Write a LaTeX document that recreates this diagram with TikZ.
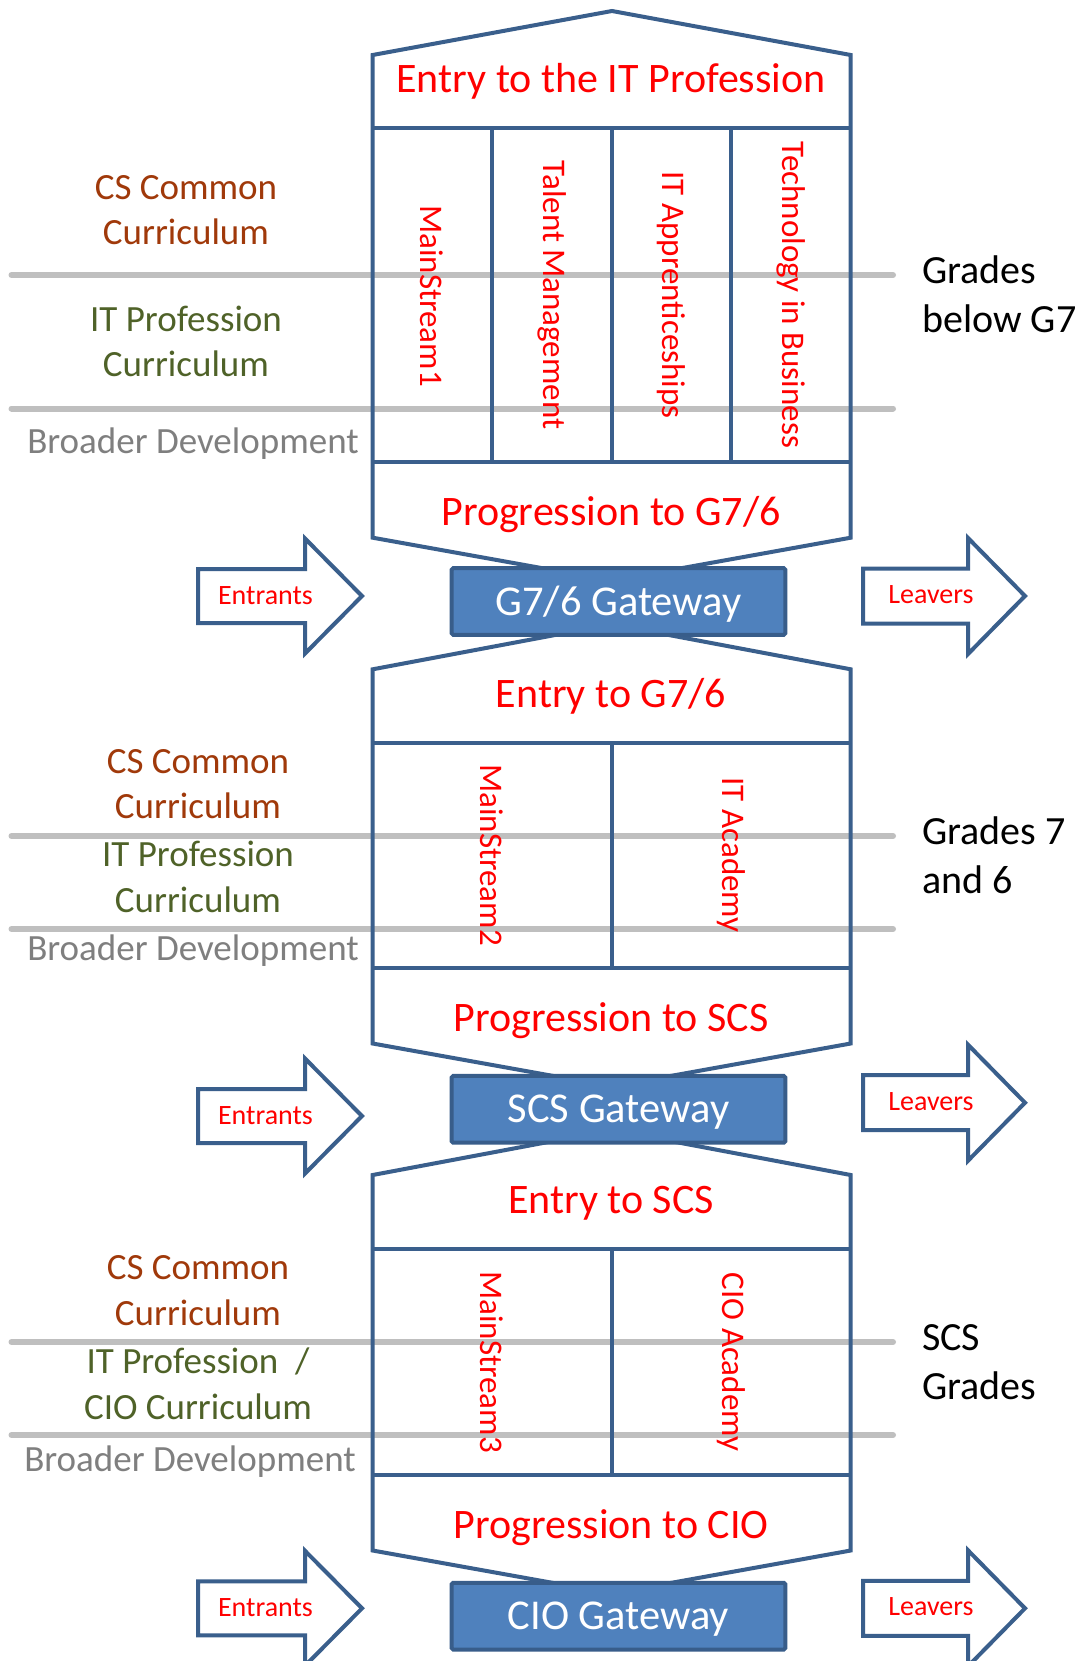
\documentclass[tikz,border=0pt]{standalone}
\usepackage{fontspec}
\setmainfont{Carlito}
\definecolor{bord}{HTML}{3A5F8C}
\definecolor{gwfill}{HTML}{4F81BD}
\definecolor{gwedge}{HTML}{385D8A}
\definecolor{csc}{RGB}{160,57,10}
\definecolor{itc}{HTML}{4F6228}
\definecolor{brd}{HTML}{7F7F7F}
\definecolor{lgray}{HTML}{BFBFBF}
\tikzset{
  outline/.style={draw=bord, line width=4pt, line join=miter},
  grayline/.style={draw=lgray, line width=6pt, line cap=round},
  gateway/.style={draw=gwedge, fill=gwfill, line width=4pt, rounded corners=1.5pt,
    minimum width=333.6pt, minimum height=66.7pt, inner sep=0pt,
    text=white, font=\fontsize{42.5}{50}\selectfont, text height=27pt, text depth=0pt},
  titletext/.style={text=red, font=\fontsize{42}{50}\selectfont, anchor=base, inner sep=0pt},
  coltext/.style={text=red, font=\fontsize{33}{40}\selectfont, rotate=-90, inner sep=0pt},
  cstext/.style={text=csc, font=\fontsize{37}{44}\selectfont, anchor=base, inner sep=0pt},
  ittext/.style={text=itc, font=\fontsize{37}{44}\selectfont, anchor=base, inner sep=0pt},
  brtext/.style={text=brd, font=\fontsize{37}{44}\selectfont, anchor=base, inner sep=0pt},
  gradetext/.style={text=black, font=\fontsize{40}{48}\selectfont, anchor=base west, inner sep=0pt},
  arrowtext/.style={text=red, font=\fontsize{28}{33}\selectfont, anchor=base, inner sep=0pt},
  arrowshape/.style={draw=bord, fill=white, line width=4pt, line join=miter}
}
\begin{document}
\begin{tikzpicture}[x=1pt,y=-1pt]
\useasboundingbox (0,0) rectangle (1088,1661);
\fill[white] (0,0) rectangle (1088,1661);

% grey band lines
\foreach \y in {275,408.5,836,929,1342,1435}
  \draw[grayline] (11.5,\y) -- (893,\y);

% section 1
\draw[outline] (372.7,55) -- (612,11) -- (850.7,55) -- (850.7,537.7) -- (612,580.7) -- (372.7,537.7) -- cycle;
\draw[outline] (372.7,128.3) -- (850.7,128.3);
\draw[outline] (372.7,461.7) -- (850.7,461.7);
\foreach \x in {491.7,611.7,731}
  \draw[outline] (\x,128.3) -- (\x,461.7);

% section 2
\draw[outline] (372.7,669.3) -- (612,624.3) -- (850.7,669.3) -- (850.7,1043.5) -- (612,1086.5) -- (372.7,1043.5) -- cycle;
\draw[outline] (372.7,742.6) -- (850.7,742.6);
\draw[outline] (372.7,968.3) -- (850.7,968.3);
\draw[outline] (611.7,742.6) -- (611.7,968.3);

% section 3
\draw[outline] (372.7,1175) -- (612,1130) -- (850.7,1175) -- (850.7,1550.5) -- (612,1593.5) -- (372.7,1550.5) -- cycle;
\draw[outline] (372.7,1249) -- (850.7,1249);
\draw[outline] (372.7,1474.7) -- (850.7,1474.7);
\draw[outline] (611.7,1249) -- (611.7,1474.7);

% gateways
\node[gateway] (gw1) at (618.5,601.5) {G7/6 Gateway};
\node[gateway] (gw2) at (618.5,1109.3) {SCS Gateway};
\node[gateway] (gw3) at (618.5,1616.2) {CIO Gateway};

% titles
\node[titletext] (t1) at (611,92.7) {Entry to the IT Profession};
\node[titletext] (p1) at (611,525) {Progression to G7/6};
\node[titletext] (t2) at (611,707.5) {Entry to G7/6};
\node[titletext] (p2) at (611,1031.5) {Progression to SCS};
\node[titletext] (t3) at (611,1213.7) {Entry to SCS};
\node[titletext] (p3) at (611,1538) {Progression to CIO};

% column texts
\node[coltext] (c11) at (432,296) {MainStream1};
\node[coltext] (c12) at (552,295) {Talent Management};
\node[coltext] (c13) at (671,295) {IT Apprenticeships};
\node[coltext] (c14) at (791,295) {Technology in Business};
\node[coltext] (c21) at (492,855) {MainStream2};
\node[coltext] (c22) at (731.5,855) {IT Academy};
\node[coltext] (c31) at (492,1362) {MainStream3};
\node[coltext] (c32) at (731.5,1362) {CIO Academy};

% left labels section 1
\node[cstext] (l11) at (186,199.4) {CS Common};
\node[cstext] (l12) at (186,244.4) {Curriculum};
\node[ittext] (l13) at (186,331.4) {IT Profession};
\node[ittext] (l14) at (186,376.4) {Curriculum};
\node[brtext] (l15) at (193,453) {Broader Development};
% left labels section 2
\node[cstext] (l21) at (198,773) {CS Common};
\node[cstext] (l22) at (198,818.7) {Curriculum};
\node[ittext] (l23) at (198,866.4) {IT Profession};
\node[ittext] (l24) at (198,912) {Curriculum};
\node[brtext] (l25) at (193,960.6) {Broader Development};
% left labels section 3
\node[cstext] (l31) at (198,1279.4) {CS Common};
\node[cstext] (l32) at (198,1325) {Curriculum};
\node[ittext] (l33) at (198,1373) {IT Profession\ \ /};
\node[ittext] (l34) at (198,1419.4) {CIO Curriculum};
\node[brtext] (l35) at (190,1471.4) {Broader Development};

% right labels
\node[gradetext] (r11) at (922,283.3) {Grades};
\node[gradetext] (r12) at (922,332) {below G7};
\node[gradetext] (r21) at (922,844) {Grades 7};
\node[gradetext] (r22) at (922,893) {and 6};
\node[gradetext] (r31) at (922,1350) {SCS};
\node[gradetext] (r32) at (922,1399) {Grades};

% entrants arrows
\foreach \c/\i in {596/1,1116/2,1608.3/3} {
  \draw[arrowshape] (198,\c-27) -- (305,\c-27) -- (305,\c-57.5) -- (362,\c)
     -- (305,\c+57.5) -- (305,\c+27) -- (198,\c+27) -- cycle;
  \node[arrowtext] (ent\i) at (265.5,\c+8) {Entrants};
}
% leavers arrows
\foreach \c/\i in {596/1,1102.7/2,1608.3/3} {
  \draw[arrowshape] (863,\c-27.5) -- (968,\c-27.5) -- (968,\c-58) -- (1025,\c)
     -- (968,\c+58) -- (968,\c+27.5) -- (863,\c+27.5) -- cycle;
  \node[arrowtext] (lv\i) at (931,\c+7.5) {Leavers};
}
\end{tikzpicture}
\end{document}
